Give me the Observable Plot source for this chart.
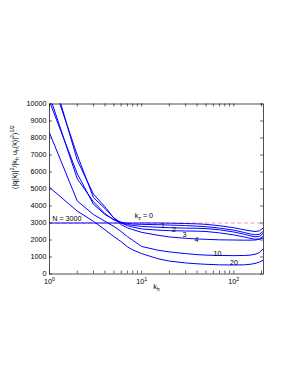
<!DOCTYPE html>
<html><head><meta charset="utf-8">
<script src="https://cdn.jsdelivr.net/npm/d3@7"></script>
<script src="https://cdn.jsdelivr.net/npm/@observablehq/plot@0.6"></script>
<style>
html,body{margin:0;padding:0;background:#fff;}
svg{display:block;}
</style>
</head><body><div id="chart"></div>
<script>
// horizontal wavenumber samples
const kh   = [1, 2, 3, 4, 5, 6, 7, 8, 10, 15, 20, 30, 40, 50, 70, 100, 130, 150, 170, 190, 210];
// ratio (|q|^2/|k_h u_h|^2)^(1/2) for each vertical wavenumber k_z
const kz0  = [3000, 3000, 3000, 3000, 3000, 3000, 3000, 3000, 3000, 3000, 2990, 2970, 2950, 2920, 2840, 2720, 2600, 2540, 2500, 2540, 2720];
const kz1  = [10150, 5900, 4100, 3500, 3200, 3050, 2970, 2940, 2920, 2900, 2880, 2850, 2815, 2780, 2700, 2580, 2440, 2360, 2300, 2340, 2520];
const kz2  = [10500, 5600, 4250, 3550, 3180, 3000, 2910, 2860, 2800, 2750, 2720, 2700, 2690, 2670, 2600, 2470, 2340, 2250, 2180, 2220, 2400];
const kz3  = [11800, 7000, 4500, 3850, 3300, 3000, 2850, 2760, 2650, 2580, 2550, 2530, 2520, 2500, 2420, 2300, 2180, 2100, 2040, 2070, 2230];
const kz4  = [12300, 6700, 4700, 3950, 3280, 2900, 2720, 2610, 2450, 2280, 2180, 2100, 2060, 2040, 2010, 2000, 1990, 1990, 2000, 2040, 2130];
const kz10 = [8300, 4300, 3500, 3100, 2800, 2500, 2200, 1980, 1620, 1400, 1300, 1200, 1140, 1110, 1090, 1080, 1090, 1110, 1160, 1260, 1500];
const kz20 = [5100, 3700, 3100, 2600, 2200, 1900, 1600, 1420, 1200, 900, 760, 650, 600, 570, 540, 530, 540, 570, 620, 700, 820];
const kzNames = ["0", "1", "2", "3", "4", "10", "20"];
const N = 3000;

// tick values
const yTicks = [0, 1000, 2000, 3000, 4000, 5000, 6000, 7000, 8000, 9000, 10000];
const xMajor = [1, 10, 100];
const xMinor = [2, 3, 4, 5, 6, 7, 8, 9, 20, 30, 40, 50, 60, 70, 80, 90, 200];

// annotations (text, k_h, value)
const curveLabelText = ["1", "2", "3", "4", "10", "20"];
const curveLabelK    = [17.0, 22.4, 29.2, 39.4, 66.4, 100.7];
const curveLabelV    = [2855, 2620, 2300, 2035, 1215, 685];
const nLabel = {t: "N = 3000", k: 1.07, v: 3240};
const kzLabel = {t: "k_z = 0", k: 8.4, v: 3430};
const yLabel = "(|q(k)|^2/|k_h u_h(k)|^2)^{1/2}";
const xLabel = "k_h";

const series = [kz0, kz1, kz2, kz3, kz4, kz10, kz20];
const rows = series.flatMap((vals, s) => vals.map((v, i) => ({kz: kzNames[s], k: kh[i], v})));
const labels = curveLabelText.map((t, i) => ({t, k: curveLabelK[i], v: curveLabelV[i]}));

const W = 298, H = 385, mL = 49, mR = 35, mT = 103.5, mB = 111.5;
const innerW = W - mL - mR, innerH = H - mT - mB;
const axisColor = "#222";
const fs = 7.2;

const chart = Plot.plot({
  width: W, height: H,
  marginLeft: mL, marginRight: mR, marginTop: mT, marginBottom: mB,
  style: {fontFamily: "'Liberation Sans', Arial, Helvetica, sans-serif", fontSize: fs + "px", background: "#fff", color: "#000"},
  x: {type: "log", domain: [1, 210]},
  y: {domain: [0, 10000]},
  marks: [
    Plot.ruleY([N], {stroke: "#ff8a8a", strokeWidth: 0.9, strokeDasharray: "4,2.5"}),
    Plot.line(rows, {x: "k", y: "v", z: "kz", stroke: "#0000ff", strokeWidth: 1, clip: true}),
    Plot.frame({stroke: axisColor, strokeWidth: 0.8}),
    Plot.tickY(yTicks, {y: d => d, insetRight: innerW - 3, stroke: axisColor, strokeWidth: 0.7}),
    Plot.tickY(yTicks, {y: d => d, insetLeft: innerW - 3, stroke: axisColor, strokeWidth: 0.7}),
    Plot.tickX(xMajor.concat(xMinor), {x: d => d, insetTop: innerH - 3, stroke: axisColor, strokeWidth: 0.7}),
    Plot.tickX(xMajor.concat(xMinor), {x: d => d, insetBottom: innerH - 3, stroke: axisColor, strokeWidth: 0.7}),
    Plot.axisY({ticks: yTicks, tickSize: 0, tickPadding: 3, label: null, tickFormat: d => String(d), fontSize: fs}),
    Plot.axisX({ticks: xMajor, tickSize: 0, tickPadding: 5, label: null, tickFormat: d => "10^" + Math.round(Math.log10(d)), fontSize: fs}),
    Plot.text(labels, {x: "k", y: "v", text: "t", fill: "#000", fontSize: fs}),
    Plot.text([nLabel, kzLabel], {x: "k", y: "v", text: "t", textAnchor: "start", fill: "#000", fontSize: fs}),
    Plot.text([yLabel], {frameAnchor: "left", rotate: -90, dx: -35, text: d => d, fill: "#000", fontSize: fs}),
    Plot.text([xLabel], {frameAnchor: "bottom", dy: 15, text: d => d, fill: "#000", fontSize: fs})
  ]
});

// turn _x / ^x markup into subscript / superscript tspans
function rich(el) {
  const s = el.textContent;
  if (!/[_^]/.test(s)) return;
  const parts = [];
  let i = 0, buf = "";
  while (i < s.length) {
    const c = s[i];
    if (c === "_" || c === "^") {
      if (buf) { parts.push([buf, 0]); buf = ""; }
      let g;
      if (s[i + 1] === "{") { const j = s.indexOf("}", i + 2); g = s.slice(i + 2, j); i = j + 1; }
      else { g = s[i + 1]; i += 2; }
      parts.push([g, c === "_" ? 1 : -1]);
    } else { buf += c; i++; }
  }
  if (buf) parts.push([buf, 0]);
  el.textContent = "";
  let cur = 0;
  for (const [t, m] of parts) {
    const ts = document.createElementNS("http://www.w3.org/2000/svg", "tspan");
    const target = m === 1 ? 2.0 : m === -1 ? -3.0 : 0;
    ts.setAttribute("dy", target - cur);
    cur = target;
    if (m) ts.setAttribute("font-size", 5.3);
    ts.textContent = t;
    el.appendChild(ts);
  }
}
chart.querySelectorAll("text").forEach(rich);
document.getElementById("chart").appendChild(chart);
</script>
</body></html>
